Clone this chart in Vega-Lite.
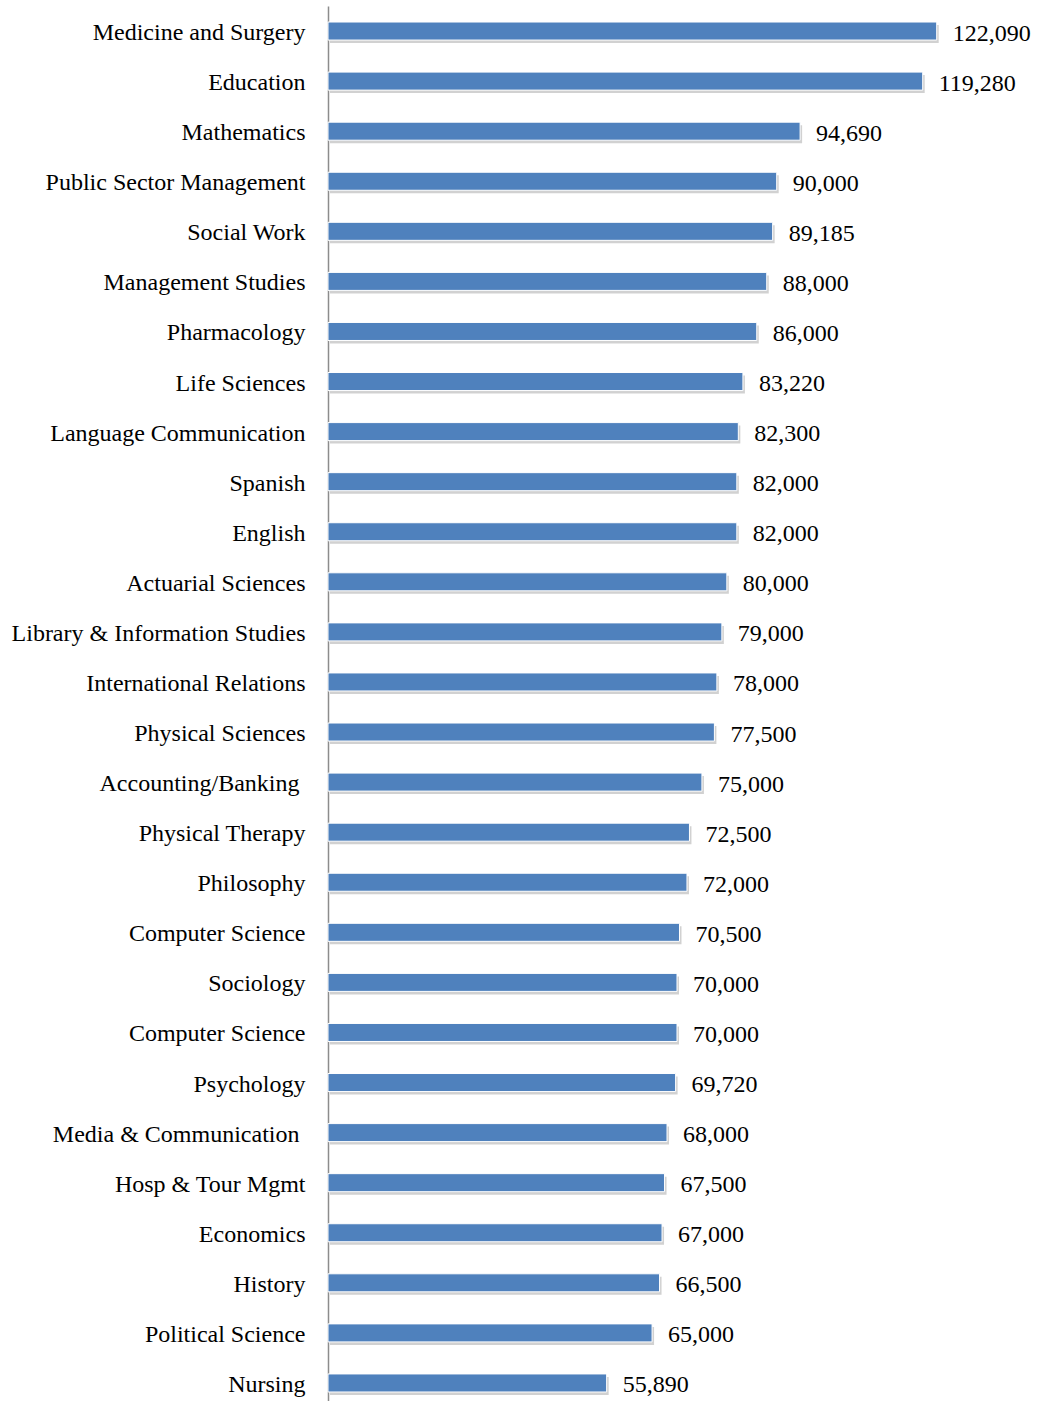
{
  "$schema": "https://vega.github.io/schema/vega-lite/v6.json",
  "autosize": "none",
  "padding": {"left": 328, "top": 6, "right": 13, "bottom": 0},
  "width": 698,
  "height": 1402,
  "background": "white",
  "config": {"view": {"stroke": null}, "font": "Liberation Serif"},
  "data": {
    "values": [
      {"row": "Medicine and Surgery", "value": 122090},
      {"row": "Education", "value": 119280},
      {"row": "Mathematics", "value": 94690},
      {"row": "Public Sector Management", "value": 90000},
      {"row": "Social Work", "value": 89185},
      {"row": "Management Studies", "value": 88000},
      {"row": "Pharmacology", "value": 86000},
      {"row": "Life Sciences", "value": 83220},
      {"row": "Language Communication", "value": 82300},
      {"row": "Spanish", "value": 82000},
      {"row": "English", "value": 82000},
      {"row": "Actuarial Sciences", "value": 80000},
      {"row": "Library & Information Studies", "value": 79000},
      {"row": "International Relations", "value": 78000},
      {"row": "Physical Sciences", "value": 77500},
      {"row": "Accounting/Banking", "value": 75000},
      {"row": "Physical Therapy", "value": 72500},
      {"row": "Philosophy", "value": 72000},
      {"row": "Computer Science", "value": 70500},
      {"row": "Sociology", "value": 70000},
      {"row": "Computer Science#2", "value": 70000},
      {"row": "Psychology", "value": 69720},
      {"row": "Media & Communication", "value": 68000},
      {"row": "Hosp & Tour Mgmt", "value": 67500},
      {"row": "Economics", "value": 67000},
      {"row": "History", "value": 66500},
      {"row": "Political Science", "value": 65000},
      {"row": "Nursing", "value": 55890}
    ]
  },
  "encoding": {
    "y": {
      "field": "row",
      "type": "nominal",
      "sort": null,
      "scale": {"paddingInner": 0.64, "paddingOuter": 0.32},
      "axis": {
        "title": null,
        "ticks": false,
        "domainColor": "#8c8c8c",
        "domainWidth": 1.5,
        "labelPadding": {"condition": {"test": "datum.value === 'Accounting/Banking' || datum.value === 'Media & Communication'", "value": 29}, "value": 23},
        "labelOffset": 2,
        "labelFont": "Liberation Serif",
        "labelFontSize": 24,
        "labelColor": "#000000",
        "labelLimit": 400,
        "labelExpr": "split(datum.label, '#')[0]"
      }
    },
    "x": {
      "field": "value",
      "type": "quantitative",
      "scale": {"domain": [0, 140000]},
      "axis": null
    }
  },
  "layer": [
    {
      "mark": {"type": "bar", "color": "#9a9a9a", "opacity": 0.45, "xOffset": 2, "yOffset": 3}
    },
    {
      "mark": {"type": "bar", "color": "#4F81BD", "stroke": "white", "strokeWidth": 1}
    },
    {
      "mark": {"type": "text", "align": "left", "baseline": "middle", "dx": 16, "dy": 2.5, "font": "Liberation Serif", "fontSize": 24, "color": "#000000"},
      "encoding": {"text": {"field": "value", "type": "quantitative", "format": ","}}
    }
  ]
}
